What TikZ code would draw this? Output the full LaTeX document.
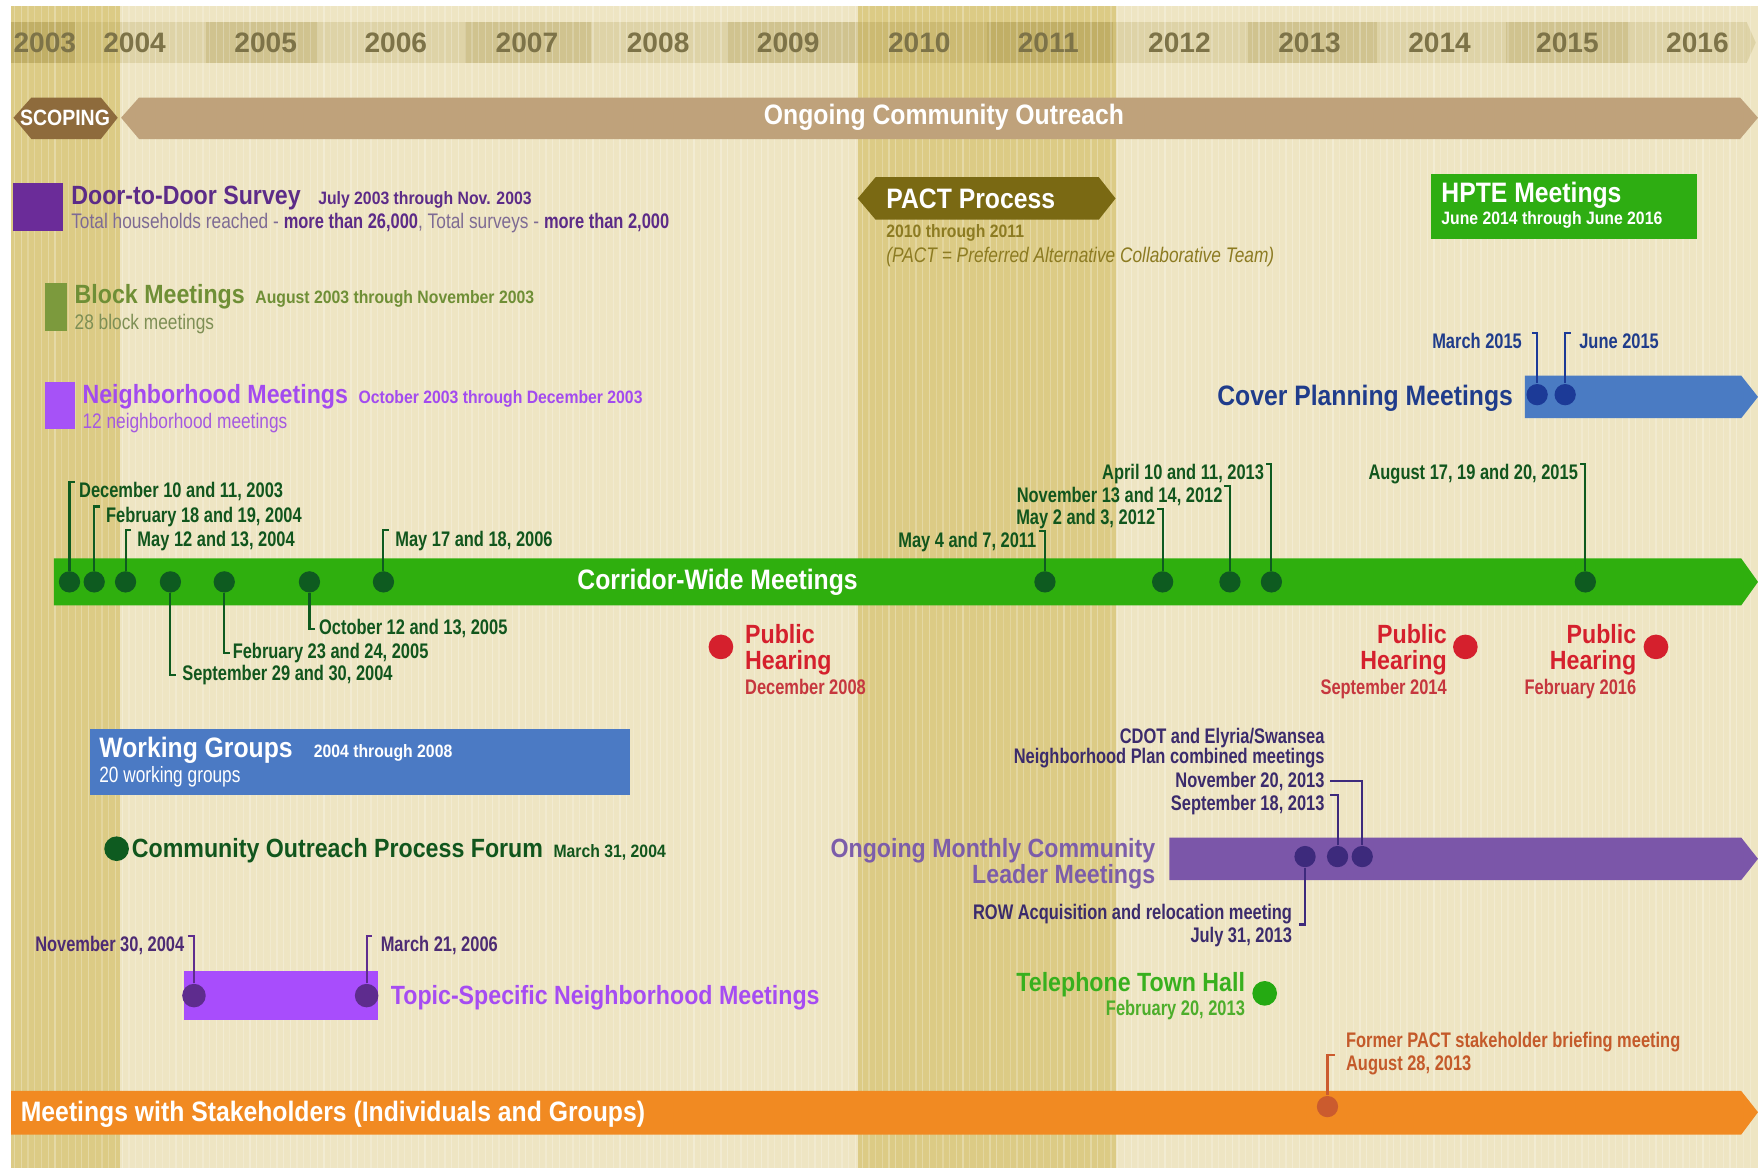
\documentclass[tikz,border=0pt]{standalone}
\usepackage{fontspec}
\setmainfont{Liberation Sans}[FakeStretch=0.82]
\newfontfamily\hdfont{Liberation Sans}[FakeStretch=0.88]
\newfontfamily\lblfont{Liberation Sans}[FakeStretch=0.78]
\newfontfamily\yrfont{Liberation Sans}
\usetikzlibrary{positioning}

\definecolor{creamcol}{HTML}{EEE5C3}
\definecolor{colcol}{HTML}{DCCB85}
\definecolor{barcol}{HTML}{A89548}
\definecolor{yrtxt}{HTML}{7D7348}
\definecolor{scopecol}{HTML}{8E6B3C}
\definecolor{outcol}{HTML}{BFA27B}
\definecolor{doorcol}{HTML}{6B2C99}
\definecolor{doortxt}{HTML}{5C2B88}
\definecolor{doorlt}{HTML}{7E6B94}
\definecolor{blockcol}{HTML}{7C9A3D}
\definecolor{blocktxt}{HTML}{6F8F36}
\definecolor{blocklt}{HTML}{7E8F55}
\definecolor{nbhcol}{HTML}{A652F7}
\definecolor{nbhtxt}{HTML}{A34BEF}
\definecolor{nbhlt}{HTML}{A55AE0}
\definecolor{pactcol}{HTML}{7A6913}
\definecolor{pacttxt}{HTML}{8C7B22}
\definecolor{hptecol}{HTML}{2EAD12}
\definecolor{covcol}{HTML}{4A7BC3}
\definecolor{covtxt}{HTML}{1F3C8B}
\definecolor{covdot}{HTML}{1C3A97}
\definecolor{cwcol}{HTML}{2FAF0E}
\definecolor{cwdot}{HTML}{0E5B20}
\definecolor{cwtxt}{HTML}{11561D}
\definecolor{phcol}{HTML}{D5202D}
\definecolor{phlt}{HTML}{C6373E}
\definecolor{wgcol}{HTML}{4B7AC4}
\definecolor{mocol}{HTML}{7B56A9}
\definecolor{motxt}{HTML}{7C5DAA}
\definecolor{modot}{HTML}{3D2A7C}
\definecolor{molbl}{HTML}{3B2B6C}
\definecolor{tpcol}{HTML}{A84DFC}
\definecolor{tpdot}{HTML}{5E2C8E}
\definecolor{tptxt}{HTML}{A64CF2}
\definecolor{tplbl}{HTML}{4D2B74}
\definecolor{thtxt}{HTML}{38B01E}
\definecolor{thlt}{HTML}{4DAE2B}
\definecolor{thdot}{HTML}{25AA12}
\definecolor{stcol}{HTML}{F18A22}
\definecolor{stdot}{HTML}{CB5B2E}
\definecolor{sttxt}{HTML}{C45A2A}

\def\unitpx{0.11212mm}
\newcommand\sdate[1]{\hspace{3pt}{\fontsize{5.1}{6}\selectfont#1}}

\tikzstyle{sub}=[inner sep=0,font=\fontsize{6}{7}\selectfont]
\tikzstyle{lbl}=[inner sep=0,font=\lblfont\bfseries\fontsize{6}{7}\selectfont]
\tikzstyle{ttl}=[inner sep=0,font=\hdfont\bfseries\fontsize{7.5}{9}\selectfont]
\tikzstyle{bartxt}=[inner sep=0,text=white,font=\hdfont\bfseries\fontsize{8}{9}\selectfont]
\tikzstyle{year}=[inner sep=0,text=yrtxt,font=\yrfont\bfseries\fontsize{8}{9}\selectfont]
\tikzstyle{mdot}=[circle,inner sep=0,minimum size=19*\unitpx]
\tikzstyle{bdot}=[circle,inner sep=0,minimum size=22*\unitpx]
\tikzstyle{ldr}=[line width=0.6pt]

\begin{document}
\begin{tikzpicture}[x=\unitpx,y=-\unitpx]
  \useasboundingbox (0,0) rectangle (1568,1042);

  % BACKGROUND
  \fill[white] (0,0) rectangle (1568,1042);
  \fill[creamcol] (10,5) rectangle (1568,1042);
  \fill[colcol] (10,5) rectangle (107,1042);
  \fill[colcol] (765,5) rectangle (995,1042);
  \foreach \a/\b/\o in {10/67/0.5,67/184/0.22,184/284/0.42,284/415/0.22,415/527/0.42,
    527/648/0.22,648/763/0.42,763/880/0.3,880/993/0.5,993/1113/0.22,1113/1228/0.42,
    1228/1343/0.22,1343/1454/0.42,1454/1558/0.22}{
    \fill[barcol,opacity=\o] (\a,20) rectangle (\b,56);
  }
  \fill[barcol,opacity=0.22] (1558,20) -- (1566,38) -- (1558,56) -- cycle;
  \foreach \x [evaluate={\op=0.18+0.12*mod(\x,5)/5;}] in {13,19,...,1565}{
    \draw[white,opacity=\op,line width=0.35pt] (\x,5) -- (\x,1042);
  }
  \foreach \yr/\x in {2003/40,2004/120,2005/237,2006/353,2007/470,2008/587,2009/703,
    2010/820,2011/935,2012/1052,2013/1168,2014/1284,2015/1398,2016/1514}{
    \node[year] (y\yr) at (\x,38) {\yr};
  }

  % SCOPING + OUTREACH
  \fill[scopecol] (12,105) -- (28,87) -- (90,87) -- (105,105) -- (90,124) -- (28,124) -- cycle;
  \node[inner sep=0,text=white,font=\hdfont\bfseries\fontsize{6.3}{8}\selectfont] (scoping) at (58,105) {SCOPING};
  \fill[outcol] (108,105) -- (124,87) -- (1552,87) -- (1568,105) -- (1552,124) -- (124,124) -- cycle;
  \node[bartxt] (outreach) at (842,105) {Ongoing Community Outreach};

  % EARLY PROGRAMS
  \fill[doorcol] (12,163) rectangle (56,206);
  \node[ttl,text=doortxt,anchor=base west] (door) at (63,182)
    {Door-to-Door Survey\hspace{2pt}\sdate{July 2003 through Nov. 2003}};
  \node[sub,text=doorlt,anchor=base west] (doorsub) at (63,204)
    {Total households reached - {\lblfont\bfseries\color{doortxt}more than 26,000}, Total surveys - {\lblfont\bfseries\color{doortxt}more than 2,000}};
  \fill[blockcol] (40,252) rectangle (60,295);
  \node[ttl,text=blocktxt,anchor=base west] (block) at (66,271)
    {Block Meetings\sdate{August 2003 through November 2003}};
  \node[sub,text=blocklt,anchor=base west] (blocksub) at (66,294) {28 block meetings};
  \fill[nbhcol] (40,341) rectangle (67,383);
  \node[ttl,text=nbhtxt,anchor=base west] (nbh) at (73,360)
    {Neighborhood Meetings\sdate{October 2003 through December 2003}};
  \node[sub,text=nbhlt,anchor=base west] (nbhsub) at (73,382) {12 neighborhood meetings};

  % PACT + HPTE
  \fill[pactcol] (765,177) -- (781,158) -- (980,158) -- (995,177) -- (980,196) -- (781,196) -- cycle;
  \node[bartxt,anchor=base west] (pact) at (790,186) {PACT Process};
  \node[inner sep=0,text=pacttxt,anchor=base west,font=\hdfont\bfseries\fontsize{5.1}{6}\selectfont]
    (pactdate) at (790,212) {2010 through 2011};
  \node[sub,text=pacttxt,anchor=base west,font=\fontsize{6}{7}\selectfont\itshape] (pactnote) at (790,234)
    {(PACT = Preferred Alternative Collaborative Team)};
  \fill[hptecol] (1276,155) rectangle (1514,213);
  \node[bartxt,anchor=base west] (hpte) at (1285,181) {HPTE Meetings};
  \node[inner sep=0,text=white,anchor=base west,font=\hdfont\bfseries\fontsize{5.1}{6}\selectfont]
    (hptedate) at (1285,200) {June 2014 through June 2016};

  % COVER PLANNING
  \fill[covcol] (1360,335) -- (1553,335) -- (1568,354) -- (1553,373) -- (1360,373) -- cycle;
  \node[bartxt,text=covtxt,anchor=base east] (cover) at (1350,362) {Cover Planning Meetings};
  \node[mdot,fill=covdot] (cv1) at (1371,352) {};
  \node[mdot,fill=covdot] (cv2) at (1396,352) {};
  \node[lbl,text=covtxt,anchor=base east] (cvl1) at (1358,311) {March 2015};
  \node[lbl,text=covtxt,anchor=base west] (cvl2) at (1408,311) {June 2015};
  \draw[ldr,covdot] (cv1) -- (cv1 |- cvl1.north) -- ++(-5,0);
  \draw[ldr,covdot] (cv2) -- (cv2 |- cvl2.north) -- ++(5,0);

  % CORRIDOR-WIDE MEETINGS
  \fill[cwcol] (48,498) -- (1553,498) -- (1568,519) -- (1553,540) -- (48,540) -- cycle;
  \node[bartxt] (corridor) at (640,519) {Corridor-Wide Meetings};
  \foreach \x [count=\i] in {62,84,112,152,200,276,342,932,1037,1097,1134,1414}{
    \node[mdot,fill=cwdot] (cw\i) at (\x,519) {};
  }
  \foreach \d/\x/\y/\t in {1/70/444/{December 10 and 11, 2003},2/94/466/{February 18 and 19, 2004},
    3/122/487/{May 12 and 13, 2004},7/352/487/{May 17 and 18, 2006}}{
    \node[lbl,text=cwtxt,anchor=base west] (cwl\d) at (\x,\y) {\t};
    \draw[ldr,cwdot] (cw\d) -- (cw\d |- cwl\d.north) -- ++(5,0);
  }
  \foreach \d/\x/\y/\t in {6/284/566/{October 12 and 13, 2005},5/207/587/{February 23 and 24, 2005},
    4/162/607/{September 29 and 30, 2004}}{
    \node[lbl,text=cwtxt,anchor=base west] (cwl\d) at (\x,\y) {\t};
    \draw[ldr,cwdot] (cw\d) -- (cw\d |- cwl\d.west) -- ++(5,0);
  }
  \foreach \d/\x/\y/\t in {8/925/488/{May 4 and 7, 2011},9/1031/468/{May 2 and 3, 2012},
    10/1091/448/{November 13 and 14, 2012},11/1128/428/{April 10 and 11, 2013},
    12/1408/428/{August 17, 19 and 20, 2015}}{
    \node[lbl,text=cwtxt,anchor=base east] (cwl\d) at (\x,\y) {\t};
    \draw[ldr,cwdot] (cw\d) -- (cw\d |- cwl\d.north) -- ++(-5,0);
  }

  % PUBLIC HEARINGS
  \node[bdot,fill=phcol] (ph1) at (643,577) {};
  \node[ttl,text=phcol,anchor=base west] (ph1a) at (664,574) {Public};
  \node[ttl,text=phcol,anchor=base west] (ph1b) at (664,597) {Hearing};
  \node[lbl,text=phlt,anchor=base west] (ph1c) at (664,619) {December 2008};
  \node[bdot,fill=phcol] (ph2) at (1307,577) {};
  \node[ttl,text=phcol,anchor=base east] (ph2a) at (1291,574) {Public};
  \node[ttl,text=phcol,anchor=base east] (ph2b) at (1291,597) {Hearing};
  \node[lbl,text=phlt,anchor=base east] (ph2c) at (1291,619) {September 2014};
  \node[bdot,fill=phcol] (ph3) at (1477,577) {};
  \node[ttl,text=phcol,anchor=base east] (ph3a) at (1460,574) {Public};
  \node[ttl,text=phcol,anchor=base east] (ph3b) at (1460,597) {Hearing};
  \node[lbl,text=phlt,anchor=base east] (ph3c) at (1460,619) {February 2016};

  % WORKING GROUPS + FORUM
  \fill[wgcol] (80,650) rectangle (562,709);
  \node[ttl,text=white,anchor=base west,font=\hdfont\bfseries\fontsize{8}{9}\selectfont] (wg) at (88,676)
    {Working Groups\hspace{3pt}\sdate{2004 through 2008}};
  \node[lbl,text=white,anchor=base west,font=\lblfont\fontsize{6.3}{7}\selectfont] (wgsub) at (88,698) {20 working groups};
  \node[bdot,fill=cwdot] (forumdot) at (104,757) {};
  \node[ttl,text=cwtxt,anchor=base west] (forum) at (117,765)
    {Community Outreach Process Forum\sdate{March 31, 2004}};

  % MONTHLY LEADER MEETINGS
  \fill[mocol] (1043,747) -- (1553,747) -- (1568,766) -- (1553,785) -- (1043,785) -- cycle;
  \node[ttl,text=motxt,anchor=base east] (mo1t) at (1031,765) {Ongoing Monthly Community};
  \node[ttl,text=motxt,anchor=base east] (mo2t) at (1031,788) {Leader Meetings};
  \node[mdot,fill=modot] (mo1) at (1164,764) {};
  \node[mdot,fill=modot] (mo2) at (1193,764) {};
  \node[mdot,fill=modot] (mo3) at (1215,764) {};
  \node[lbl,text=molbl,anchor=base east] (mol1) at (1182,663) {CDOT and Elyria/Swansea};
  \node[lbl,text=molbl,anchor=base east] (mol2) at (1182,681) {Neighborhood Plan combined meetings};
  \node[lbl,text=molbl,anchor=base east] (mol3) at (1182,702) {November 20, 2013};
  \node[lbl,text=molbl,anchor=base east] (mol4) at (1182,723) {September 18, 2013};
  \node[lbl,text=molbl,anchor=base east] (mol5) at (1153,820) {ROW Acquisition and relocation meeting};
  \node[lbl,text=molbl,anchor=base east] (mol6) at (1153,841) {July 31, 2013};
  \draw[ldr,modot] ([xshift=0.5mm]mol3.east) -| (mo3);
  \draw[ldr,modot] ([xshift=0.5mm]mol4.north east) -| (mo2);
  \draw[ldr,modot] (mo1) -- (mo1 |- mol5.south) -- ++(-5,0);

  % TOPIC-SPECIFIC
  \fill[tpcol] (164,866) rectangle (337,910);
  \node[mdot,fill=tpdot,minimum size=21*\unitpx] (tp1) at (173,888) {};
  \node[mdot,fill=tpdot,minimum size=21*\unitpx] (tp2) at (327,888) {};
  \node[lbl,text=tplbl,anchor=base east] (tpl1) at (165,849) {November 30, 2004};
  \node[lbl,text=tplbl,anchor=base west] (tpl2) at (339,849) {March 21, 2006};
  \draw[ldr,tpdot] (tp1) -- (tp1 |- tpl1.north) -- ++(-5,0);
  \draw[ldr,tpdot] (tp2) -- (tp2 |- tpl2.north) -- ++(5,0);
  \node[ttl,text=tptxt,anchor=base west] (topic) at (348,896) {Topic-Specific Neighborhood Meetings};

  % TELEPHONE TOWN HALL
  \node[bdot,fill=thdot] (th) at (1128,886) {};
  \node[ttl,text=thtxt,anchor=base east] (tht) at (1111,884) {Telephone Town Hall};
  \node[lbl,text=thlt,anchor=base east] (thd) at (1111,906) {February 20, 2013};

  % STAKEHOLDERS
  \fill[stcol] (10,973) -- (1553,973) -- (1568,992) -- (1553,1012) -- (10,1012) -- cycle;
  \node[bartxt,anchor=base west] (stake) at (18,1000) {Meetings with Stakeholders (Individuals and Groups)};
  \node[mdot,fill=stdot] (st1) at (1184,987) {};
  \node[lbl,text=sttxt,anchor=base west] (stl1) at (1200,934) {Former PACT stakeholder briefing meeting};
  \node[lbl,text=sttxt,anchor=base west] (stl2) at (1200,955) {August 28, 2013};
  \draw[ldr,stdot] (st1) -- (st1 |- stl2.north) -- ++(7,0);

\end{tikzpicture}
\end{document}
